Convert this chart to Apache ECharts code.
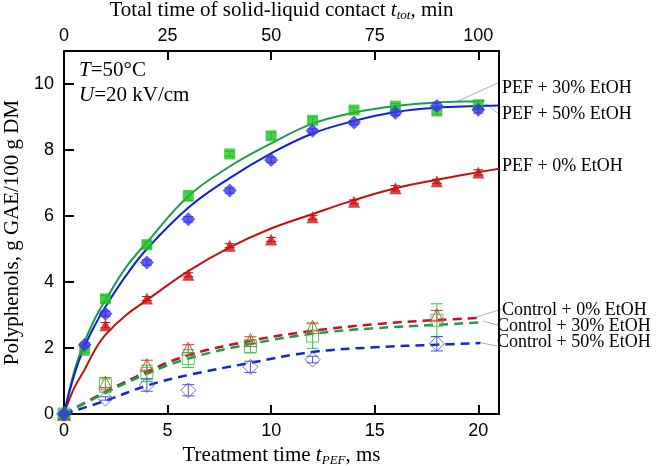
<!DOCTYPE html>
<html>
<head>
<meta charset="utf-8">
<script src="https://cdn.jsdelivr.net/npm/echarts@6/dist/echarts.min.js"></script>
<style>
html, body { margin: 0; padding: 0; background: #fff; }
#main { width: 661px; height: 466px; }
</style>
</head>
<body>
<div id="main"></div>
<script>
// measured points, PEF treatment (x = treatment time, ms)
var pefX = [0, 1, 2, 4, 6, 8, 10, 12, 14, 16, 18, 20];
var pef30 = [0, 1.93, 3.49, 5.13, 6.61, 7.88, 8.43, 8.9, 9.21, 9.33, 9.18, 9.37];
var pef50 = [0, 2.1, 3.04, 4.59, 5.9, 6.77, 7.7, 8.58, 8.83, 9.13, 9.33, 9.22];
var pef0 = [0, null, 2.69, 3.5, 4.22, 5.1, 5.29, 5.96, 6.43, 6.84, 7.05, 7.32];
var pef30Err = [0, 0.08, 0.1, 0.1, 0.15, 0.08, 0.1, 0.1, 0.08, 0.08, 0.1, 0.1];
var pef50Err = [0, 0.06, 0.08, 0.08, 0.08, 0.08, 0.08, 0.06, 0.06, 0.08, 0.1, 0.1];
var pef0Err = [0, null, 0.08, 0.06, 0.06, 0.06, 0.06, 0.06, 0.06, 0.08, 0.06, 0.08];

// control points
var ctrlX = [0, 2, 4, 6, 9, 12, 18];
var ctrl0 = [0, 0.95, 1.48, 1.98, 2.24, 2.64, 2.99];
var ctrl30 = [0, 0.88, 1.23, 1.68, 2.05, 2.36, 2.84];
var ctrl50 = [0, 0.47, 0.88, 0.72, 1.43, 1.65, 2.13];
var ctrl0Err = [0, 0.15, 0.15, 0.12, 0.1, 0.12, 0.15];
var ctrl30Err = [0, 0.22, 0.25, 0.27, 0.2, 0.37, 0.5];
var ctrl50Err = [0, 0.05, 0.19, 0.17, 0.17, 0.1, 0.22];

// fitted curves
var fitX = [0, 0.5, 1, 1.5, 2, 3, 4, 6, 8, 10, 12, 14, 16, 18, 20, 20.3, 21];
var fit30 = [0, 1.3, 2.2, 2.9, 3.45, 4.45, 5.2, 6.6, 7.5, 8.2, 8.8, 9.13, 9.33, 9.44, 9.48, 9.49, null];
var fit50 = [0, 1.2, 2.05, 2.7, 3.25, 4.2, 5.0, 6.25, 7.15, 7.9, 8.5, 8.88, 9.15, 9.28, 9.33, 9.34, 9.35];
var fit0 = [0, 0.8, 1.35, 1.95, 2.4, 3.0, 3.45, 4.33, 5.05, 5.62, 6.06, 6.48, 6.84, 7.1, 7.33, 7.36, 7.43];
var ctrlFitX = [0, 2, 4, 6, 9, 12, 15, 18, 20.1];
var ctrlFit0 = [0, 0.67, 1.28, 1.78, 2.22, 2.52, 2.72, 2.85, 2.91];
var ctrlFit30 = [0, 0.64, 1.22, 1.68, 2.12, 2.43, 2.6, 2.7, 2.78];
var ctrlFit50 = [0, 0.4, 0.86, 1.18, 1.55, 1.88, 2.02, 2.1, 2.15];

var serif = "'Liberation Serif', 'Times New Roman', serif";
var sans = "'Liberation Sans', Arial, sans-serif";

function pairs(xs, ys) {
  var out = [];
  for (var i = 0; i < xs.length; i++) {
    if (ys[i] != null) out.push([xs[i], ys[i]]);
  }
  return out;
}

function errBars(xs, ys, es, color, cap) {
  var d = [];
  for (var i = 0; i < xs.length; i++) {
    if (ys[i] != null && es[i]) d.push([xs[i], ys[i], es[i]]);
  }
  return {
    type: 'custom',
    data: d,
    z: 3,
    silent: true,
    renderItem: function (params, api) {
      var x = api.value(0), y = api.value(1), e = api.value(2);
      var hi = api.coord([x, y + e]);
      var lo = api.coord([x, y - e]);
      var st = { stroke: color, lineWidth: 1 };
      return {
        type: 'group',
        children: [
          { type: 'line', shape: { x1: hi[0], y1: hi[1], x2: lo[0], y2: lo[1] }, style: st },
          { type: 'line', shape: { x1: hi[0] - cap, y1: hi[1], x2: hi[0] + cap, y2: hi[1] }, style: st },
          { type: 'line', shape: { x1: lo[0] - cap, y1: lo[1], x2: lo[0] + cap, y2: lo[1] }, style: st }
        ]
      };
    }
  };
}

function curve(xs, ys, color, dashed) {
  return {
    type: 'line',
    data: pairs(xs, ys),
    smooth: 0.4,
    showSymbol: false,
    silent: true,
    z: 2,
    lineStyle: { color: color, width: dashed ? 2.5 : 2, type: dashed ? [9, 6] : 'solid' }
  };
}

function dots(xs, ys, symbol, size, color, open) {
  return {
    type: 'scatter',
    data: pairs(xs, ys),
    symbol: symbol,
    symbolSize: size,
    z: 4,
    itemStyle: open
      ? { color: 'rgba(255,255,255,0)', borderColor: color, borderWidth: 1 }
      : { color: color }
  };
}

var chart = echarts.init(document.getElementById('main'));

var tick5 = function (v) { return v % 5 === 0 ? v : ''; };

chart.setOption({
  backgroundColor: '#fff',
  animation: false,
  grid: { left: 64, right: 162, top: 51, bottom: 52, outerBoundsMode: 'none' },
  xAxis: [
    {
      type: 'value', position: 'bottom', min: 0, max: 21, interval: 5,
      splitLine: { show: false },
      axisLine: { lineStyle: { color: '#000', width: 2 } },
      axisTick: { inside: true, length: 9, lineStyle: { color: '#000', width: 2 } },
      axisLabel: { color: '#000', fontFamily: sans, fontSize: 18, margin: 8, formatter: tick5 },
      name: '{a|Treatment time }{i|t}{s|PEF}{a|, ms}',
      nameLocation: 'middle', nameGap: 25,
      nameTextStyle: {
        rich: {
          a: { fontFamily: serif, fontSize: 21, color: '#000' },
          i: { fontFamily: serif, fontSize: 21, fontStyle: 'italic', color: '#000' },
          s: { fontFamily: serif, fontSize: 13, fontStyle: 'italic', color: '#000', padding: [10, 0, 0, 0] }
        }
      }
    },
    {
      type: 'value', position: 'top', min: 0, max: 105, interval: 25,
      splitLine: { show: false },
      axisLine: { onZero: false, lineStyle: { color: '#000', width: 2 } },
      axisTick: { inside: true, length: 9, lineStyle: { color: '#000', width: 2 } },
      axisLabel: { color: '#000', fontFamily: sans, fontSize: 18, margin: 6, formatter: function (v) { return v % 25 === 0 ? v : ''; } },
      name: '{a|Total time of solid-liquid contact }{i|t}{s|tot}{a|, min}',
      nameLocation: 'middle', nameGap: 28,
      nameTextStyle: {
        rich: {
          a: { fontFamily: serif, fontSize: 21, color: '#000' },
          i: { fontFamily: serif, fontSize: 21, fontStyle: 'italic', color: '#000' },
          s: { fontFamily: serif, fontSize: 13, fontStyle: 'italic', color: '#000', padding: [10, 0, 0, 0] }
        }
      }
    }
  ],
  yAxis: [
    {
      type: 'value', position: 'left', min: 0, max: 11, interval: 2,
      splitLine: { show: false },
      axisLine: { lineStyle: { color: '#000', width: 2 } },
      axisTick: { inside: true, length: 10, lineStyle: { color: '#000', width: 2 } },
      axisLabel: { color: '#000', fontFamily: sans, fontSize: 18, margin: 10, formatter: function (v) { return v % 2 === 0 ? v : ''; } },
      name: 'Polyphenols, g GAE/100 g DM',
      nameLocation: 'middle', nameGap: 38,
      nameTextStyle: { fontFamily: serif, fontSize: 21, color: '#000' }
    },
    {
      type: 'value', position: 'right', min: 0, max: 11,
      splitLine: { show: false },
      axisLine: { show: true, onZero: false, lineStyle: { color: '#000', width: 2 } },
      axisTick: { show: false },
      axisLabel: { show: false }
    }
  ],
  graphic: [
    { type: 'text', x: 79, y: 70, style: { text: '{i|T}{a|=50°C}', verticalAlign: 'middle',
      rich: { i: { fontFamily: serif, fontSize: 21, fontStyle: 'italic', fill: '#000' }, a: { fontFamily: serif, fontSize: 21, fill: '#000' } } } },
    { type: 'text', x: 79, y: 95, style: { text: '{i|U}{a|=20 kV/cm}', verticalAlign: 'middle',
      rich: { i: { fontFamily: serif, fontSize: 21, fontStyle: 'italic', fill: '#000' }, a: { fontFamily: serif, fontSize: 21, fill: '#000' } } } },
    { type: 'line', shape: { x1: 458, y1: 101, x2: 500, y2: 82 }, style: { stroke: '#9db3cf', lineWidth: 1 } },
    { type: 'line', shape: { x1: 486, y1: 104, x2: 500, y2: 115 }, style: { stroke: '#9db3cf', lineWidth: 1 } },
    { type: 'line', shape: { x1: 473, y1: 318, x2: 502, y2: 309 }, style: { stroke: '#9db3cf', lineWidth: 1 } },
    { type: 'line', shape: { x1: 483, y1: 321, x2: 497, y2: 325 }, style: { stroke: '#9db3cf', lineWidth: 1 } },
    { type: 'line', shape: { x1: 477, y1: 342, x2: 497, y2: 346 }, style: { stroke: '#9db3cf', lineWidth: 1 } },
    { type: 'text', x: 502, y: 88, style: { text: 'PEF + 30% EtOH', font: '18px ' + serif, fill: '#000', verticalAlign: 'middle' } },
    { type: 'text', x: 502, y: 114, style: { text: 'PEF + 50% EtOH', font: '18px ' + serif, fill: '#000', verticalAlign: 'middle' } },
    { type: 'text', x: 502, y: 166, style: { text: 'PEF + 0% EtOH', font: '18px ' + serif, fill: '#000', verticalAlign: 'middle' } },
    { type: 'text', x: 502, y: 310, style: { text: 'Control + 0% EtOH', font: '18px ' + serif, fill: '#000', verticalAlign: 'middle' } },
    { type: 'text', x: 497, y: 326, style: { text: 'Control + 30% EtOH', font: '18px ' + serif, fill: '#000', verticalAlign: 'middle' } },
    { type: 'text', x: 497, y: 342, style: { text: 'Control + 50% EtOH', font: '18px ' + serif, fill: '#000', verticalAlign: 'middle' } }
  ],
  series: [
    curve(ctrlFitX, ctrlFit0, '#c8102e', true),
    curve(ctrlFitX, ctrlFit30, '#1a9e4a', true),
    curve(ctrlFitX, ctrlFit50, '#1028d0', true),
    errBars(ctrlX, ctrl0, ctrl0Err, '#d0393e', 6),
    errBars(ctrlX, ctrl30, ctrl30Err, '#33cc33', 6),
    errBars(ctrlX, ctrl50, ctrl50Err, '#5050dd', 6),
    dots(ctrlX, ctrl0, 'triangle', 13, '#c83030', true),
    dots(ctrlX, ctrl30, 'rect', 12, '#33c033', true),
    dots(ctrlX, ctrl50, 'diamond', 15, '#5050dd', true),
    curve(fitX, fit0, '#c41010', false),
    curve(fitX, fit30, '#1c9c50', false),
    curve(fitX, fit50, '#0b22d0', false),
    errBars(pefX, pef0, pef0Err, '#c41010', 5),
    errBars(pefX, pef30, pef30Err, '#22bb22', 5),
    errBars(pefX, pef50, pef50Err, '#3535ee', 5),
    dots(pefX, pef0, 'triangle', 12, '#cc1111', false),
    dots(pefX, pef30, 'rect', 11, '#22c022', false),
    dots(pefX, pef50, 'diamond', 14, '#3535ee', false)
  ]
});
</script>
</body>
</html>
